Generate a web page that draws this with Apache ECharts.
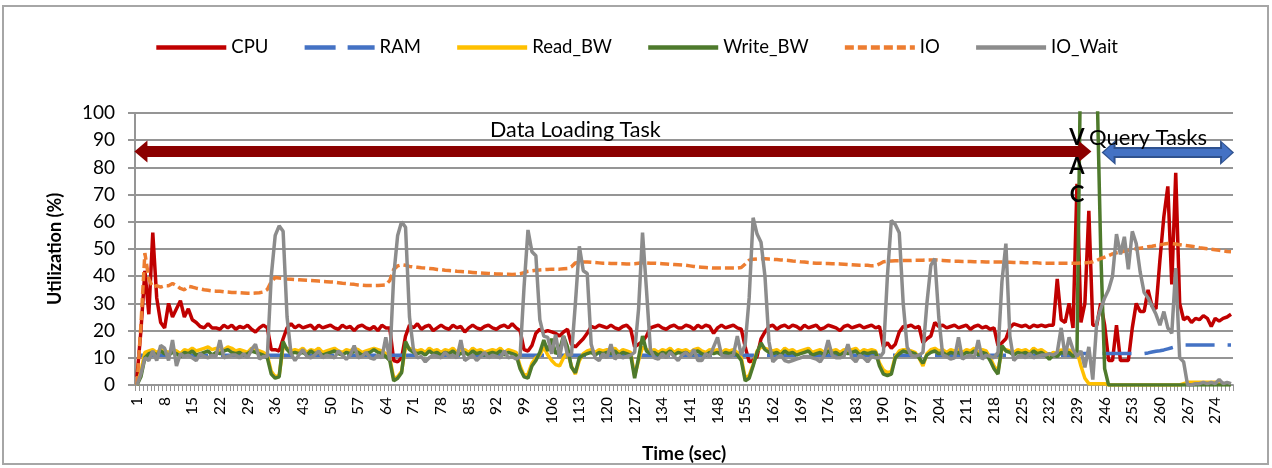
<!DOCTYPE html>
<html>
<head>
<meta charset="utf-8">
<title>Utilization</title>
<script src="https://cdn.jsdelivr.net/npm/echarts@6/dist/echarts.min.js"></script>
</head>
<body style="margin: 0; background: #fff;">
<div id="main" style="width: 1272px; height: 468px;"></div>
<script type="text/javascript">
    // time axis: one category per second
    var seconds = [];
    for (var s = 1; s <= 278; s++) { seconds.push(String(s)); }

    var seriesNames = ['CPU', 'RAM', 'Read_BW', 'Write_BW', 'IO', 'IO_Wait'];

    var cpu = [
        3, 20, 42, 26, 56, 32, 23, 21, 30, 25,
        28, 31, 25, 28, 24, 23, 21.5, 21, 22.5, 21,
        21, 20.5, 22, 21, 22, 20.5, 21.5, 21, 22, 20.5,
        19.5, 21, 22, 21, 13, 13, 12.5, 17, 21, 22.5,
        21, 22, 21, 21.5, 22, 20.5, 22, 21, 21.5, 22,
        21, 20.5, 22, 21, 21.5, 20, 21.5, 22, 21, 20.5,
        21.5, 20, 22, 21, 21, 9, 8.5, 10, 18, 22,
        21, 22.5, 20.5, 21.5, 22, 20, 21, 22, 21, 20.5,
        22, 21, 21.5, 19.5, 21, 22, 21, 20.5, 21.5, 22,
        21, 20.5, 21.5, 22, 21, 22.5, 21, 20, 13, 12.5,
        14.5, 19, 20.5, 19.5, 20, 19.5, 19, 18, 19.5, 20.5,
        15, 14, 15.5, 17, 19, 21.5, 21, 22, 21.5, 21,
        22, 21, 20.5, 21.5, 22, 20.5, 14, 15, 16, 18,
        21, 21.5, 22, 21, 20.5, 21.5, 22, 21, 21, 22,
        21.5, 20.5, 22, 21, 22, 21.5, 19, 21, 22, 21,
        21.5, 22, 21, 20.5, 14, 8.5, 9, 10.5, 17, 19.5,
        21.5, 22, 20.5, 21.5, 22, 21, 22, 21.5, 20.5, 22,
        21, 21.5, 22, 20.5, 21, 22, 21.5, 21, 20, 21.5,
        22, 21, 21.5, 22, 21, 21.5, 22, 21, 21.5, 14,
        15.5, 13.5, 15, 19.5, 21.5, 21.5, 22, 21, 21.5, 15.5,
        17, 18, 23, 21.5, 22, 21, 21.5, 22, 21, 21.5,
        22, 20.5, 21.5, 22, 21, 21.5, 20.5, 21, 14.5, 15.5,
        17, 21, 22.5, 22, 21.5, 22, 21, 22, 21.5, 22,
        21.5, 22, 22, 39, 24, 23, 30, 21, 74, 23,
        30, 64, 22, 22, 30, 22, 9, 9, 22, 9,
        9, 9, 21, 30, 27, 27, 35, 29, 28, 46,
        62, 73, 37, 78, 30, 24, 25, 23, 24.5, 24,
        25.5, 24.5, 21.5, 24.5, 23.5, 24.5, 25, 26
    ];

    var ram = [
        10.9, 10.9, 10.9, 10.9, 10.9, 10.9, 10.9, 10.9, 10.9, 10.9,
        10.9, 10.9, 10.9, 10.9, 10.9, 10.9, 10.9, 10.9, 10.9, 10.9,
        10.9, 10.9, 10.9, 10.9, 10.9, 10.9, 10.9, 10.9, 10.9, 10.9,
        10.9, 10.9, 10.9, 10.9, 10.9, 10.9, 10.9, 10.9, 10.9, 10.9,
        10.9, 10.9, 10.9, 10.9, 10.9, 10.9, 10.9, 10.9, 10.9, 10.9,
        10.9, 10.9, 10.9, 10.9, 10.9, 10.9, 10.9, 10.9, 10.9, 10.9,
        10.9, 10.9, 10.9, 10.9, 10.9, 10.9, 10.9, 10.9, 10.9, 10.9,
        10.9, 10.9, 10.9, 10.9, 10.9, 10.9, 10.9, 10.9, 10.9, 10.9,
        10.9, 10.9, 10.9, 10.9, 10.9, 10.9, 10.9, 10.9, 10.9, 10.9,
        10.9, 10.9, 10.9, 10.9, 10.9, 10.9, 10.9, 10.9, 10.9, 10.9,
        10.9, 10.9, 10.9, 10.9, 10.9, 10.9, 10.9, 10.9, 10.9, 10.9,
        10.9, 10.9, 10.9, 10.9, 10.9, 10.9, 10.9, 10.9, 10.9, 10.9,
        10.9, 10.9, 10.9, 10.9, 10.9, 10.9, 10.9, 10.9, 10.9, 10.9,
        10.9, 10.9, 10.9, 10.9, 10.9, 10.9, 10.9, 10.9, 10.9, 10.9,
        10.9, 10.9, 10.9, 10.9, 10.9, 10.9, 10.9, 10.9, 10.9, 10.9,
        10.9, 10.9, 10.9, 10.9, 10.9, 10.9, 10.9, 10.9, 10.9, 10.9,
        10.9, 10.9, 10.9, 10.9, 10.9, 10.9, 10.9, 10.9, 10.9, 10.9,
        10.9, 10.9, 10.9, 10.9, 10.9, 10.9, 10.9, 10.9, 10.9, 10.9,
        10.9, 10.9, 10.9, 10.9, 10.9, 10.9, 10.9, 10.9, 10.9, 10.9,
        10.9, 10.9, 10.9, 10.9, 10.9, 10.9, 10.9, 10.9, 10.9, 10.9,
        10.9, 10.9, 10.9, 10.9, 10.9, 10.9, 10.9, 10.9, 10.9, 10.9,
        10.9, 10.9, 10.9, 10.9, 10.9, 10.9, 10.9, 10.9, 10.9, 10.9,
        10.9, 10.9, 10.9, 10.9, 10.9, 10.9, 10.9, 10.9, 10.9, 10.9,
        10.9, 10.9, 10.9, 10.9, 10.9, 10.9, 10.9, 10.9, 11.6, 11.6,
        11.6, 11.6, 11.6, 11.6, 11.6, 11.6, 11.6, 11.6, 11.6, 11.6,
        11.6, 11.6, 11.6, 11.6, 11.6, 11.6, 11.8, 12.1, 12.4, 12.6,
        12.9, 13.3, 13.7, 14.1, 14.5, 14.7, 14.7, 14.7, 14.7, 14.7,
        14.7, 14.7, 14.7, 14.7, 14.7, 14.7, 14.7, 14.7
    ];

    var readBw = [
        0, 5, 12, 12.5, 13, 12, 13, 12.5, 12, 13,
        12.5, 11.5, 13, 12.5, 13.5, 12.5, 13, 13.5, 14, 13,
        13.5, 12.5, 13, 14, 13.5, 12.5, 13, 12.5, 12, 13.5,
        13, 12.5, 12, 11, 5, 3, 3.5, 14, 13.5, 12.5,
        13, 12.5, 13.5, 12, 13, 12.5, 13.5, 12, 12.5, 13,
        13.5, 12.5, 12, 13, 12.5, 13.5, 13, 12, 12.5, 13,
        13.5, 13, 12.5, 11.5, 10, 2.5, 3, 5, 14, 13.5,
        13, 12.5, 13, 12, 13.5, 12.5, 13, 12, 13, 12.5,
        13.5, 12, 12.5, 13, 12, 13.5, 12.5, 13, 12, 12.5,
        13, 12.5, 13.5, 12, 13, 12.5, 12, 7, 3.5, 4,
        8, 10, 11, 14, 11, 9, 7.5, 7, 10, 12,
        7, 4, 9, 11.5, 12.5, 13, 12, 13, 12.5, 13,
        12.5, 13.5, 12, 13, 12.5, 12, 3.5, 9, 14, 13,
        12.5, 13, 12, 13, 12.5, 13.5, 12, 13, 12.5, 13,
        12, 13, 13.5, 12.5, 12, 13, 12.5, 13, 12, 13,
        12.5, 13, 12, 10, 2.5, 3.5, 7.5, 12.5, 14, 13.5,
        13, 12.5, 13, 12, 13.5, 12.5, 13, 12, 12.5, 13,
        13.5, 12, 12.5, 13, 12, 13.5, 12.5, 13, 12, 13,
        12.5, 13, 13.5, 12, 13, 12.5, 13, 12.5, 8, 5.5,
        4.5, 5, 10.5, 12.5, 13, 13, 12.5, 12, 10, 7,
        11.5, 13, 13.5, 12.5, 13, 12, 13, 12.5, 13, 12,
        13, 12.5, 13.5, 12, 13, 12.5, 10, 7, 5, 13.5,
        13, 12.5, 12, 13, 12.5, 13, 12, 13.5, 12.5, 13,
        12, 11, 12, 11.5, 13, 12, 13, 11.5, 12.5, 7,
        2.5, 0.5, 0.5, 0.5, 0.5, 0.5, 0, 0, 0, 0,
        0, 0, 0, 0, 0, 0, 0, 0, 0, 0,
        0, 0, 0, 0, 0, 0.5, 1, 1, 1, 1,
        1, 1, 1, 1, 1, 0.5, 0.5, 0.5
    ];

    var writeBw = [
        0, 3, 10, 11.5, 12, 11, 12.5, 11.5, 11, 12,
        11.5, 10.5, 12, 11.5, 12.5, 11, 11.5, 12, 12.5, 11,
        12, 11.5, 12.5, 13, 12, 11.5, 12, 11, 11.5, 12.5,
        12, 11.5, 11, 10, 4, 2.5, 3, 16, 13, 11.5,
        12, 11.5, 12, 11, 12.5, 11.5, 12, 11, 11.5, 12,
        12.5, 11.5, 11, 12, 11.5, 12.5, 12, 11, 11.5, 12,
        13, 12, 11.5, 10.5, 9, 1.5, 2.5, 4.5, 16, 13,
        12, 11.5, 12, 11, 12.5, 11.5, 12, 11, 12, 11.5,
        12.5, 11, 11.5, 12, 11, 12.5, 11.5, 12, 11, 11.5,
        12, 11.5, 12.5, 11, 12, 11.5, 11, 6, 3, 2.5,
        7, 9, 12, 16.5, 12.5, 17, 11.5, 13, 18, 14,
        6.5, 4.5, 10, 11, 11.5, 12, 11, 12, 11.5, 12,
        11.5, 12.5, 11, 12, 11.5, 11, 2.5, 10, 18, 12.5,
        11.5, 12, 11, 12, 11.5, 12.5, 11, 12, 11.5, 12,
        11, 12, 12.5, 11.5, 11, 12, 11.5, 12, 11, 12,
        11.5, 12, 11, 9, 1.5, 2.5, 7, 12, 15.5, 13,
        12, 11.5, 12, 11, 12.5, 11.5, 12, 11, 11.5, 12,
        12.5, 11, 11.5, 12, 11, 12.5, 11.5, 12, 11, 12,
        11.5, 12, 12.5, 11, 12, 11.5, 12, 12, 7, 4,
        3.5, 4, 10, 11.5, 12.5, 12, 12, 11.5, 10, 8,
        11, 12, 12.5, 11.5, 12, 11, 12, 11.5, 12, 11,
        12, 11.5, 12.5, 11, 12, 11.5, 9, 6, 4, 14.5,
        12.5, 12, 11, 12, 11.5, 12, 11, 12.5, 11.5, 12,
        11, 9.5, 11, 10.5, 12, 11.5, 12, 10.5, 12, 130,
        400, 400, 400, 115, 50, 6, 0, 0, 0, 0,
        0, 0, 0, 0, 0, 0, 0, 0, 0, 0,
        0, 0, 0, 0, 0, 0, 0, 0, 0, 0,
        0, 0, 0, 0, 0, 0, 0, 0
    ];

    var io = [
        0, 22, 48.5, 39, 36, 36.5, 36, 36.5, 36.5, 37.3,
        36.5, 35.5, 35, 36.3, 36, 35.6, 35.3, 35, 34.8, 34.6,
        34.5, 34.5, 34.3, 34.2, 34, 34, 33.9, 33.8, 33.7, 33.7,
        33.8, 33.9, 34.2, 35.1, 38, 39.5, 39.3, 39.2, 39, 38.9,
        38.8, 38.7, 38.6, 38.5, 38.4, 38.3, 38.2, 38.1, 38, 37.9,
        37.8, 37.6, 37.4, 37.3, 37.1, 37, 36.8, 36.7, 36.6, 36.6,
        36.6, 36.6, 36.7, 36.8, 38.4, 42.5, 43.8, 44.2, 44, 43.6,
        43.4, 43.3, 43.1, 43, 42.8, 42.7, 42.5, 42.4, 42.2, 42.1,
        42, 41.8, 41.7, 41.6, 41.5, 41.4, 41.3, 41.2, 41.1, 41,
        40.9, 40.8, 40.8, 40.7, 40.7, 40.6, 40.7, 40.9, 41.3, 41.8,
        42, 42.2, 42.3, 42.4, 42.5, 42.6, 42.6, 42.6, 42.7, 42.8,
        43.5, 44.9, 45.1, 45.2, 45.2, 45.1, 45, 44.9, 44.8, 44.8,
        44.7, 44.7, 44.6, 44.6, 44.5, 44.5, 44.6, 44.8, 45, 44.9,
        44.8, 44.8, 44.7, 44.6, 44.5, 44.4, 44.3, 44.2, 44.1, 44,
        43.8, 43.6, 43.4, 43.3, 43.2, 43.1, 43, 43, 43, 43,
        43, 43, 43, 43.2, 44.5, 45.9, 46.2, 46.3, 46.4, 46.4,
        46.3, 46.2, 46.1, 46, 45.9, 45.8, 45.6, 45.5, 45.3, 45.2,
        45, 44.9, 44.8, 44.8, 44.7, 44.7, 44.6, 44.6, 44.5, 44.4,
        44.3, 44.2, 44.1, 44, 44, 44, 43.8, 43.9, 44.5, 45.3,
        45.5, 45.6, 45.7, 45.7, 45.8, 45.8, 45.8, 45.9, 45.9, 45.9,
        46, 46, 46, 45.9, 45.8, 45.7, 45.6, 45.5, 45.5, 45.4,
        45.4, 45.4, 45.3, 45.3, 45.3, 45.2, 45.2, 45.2, 45.2, 45.2,
        45.1, 45.1, 45, 45, 45, 44.9, 44.9, 44.9, 44.9, 44.8,
        44.8, 44.8, 44.8, 44.8, 44.8, 44.8, 44.8, 44.8, 44.8, 44.9,
        44.9, 45, 45.3, 45.8, 46.5, 47, 47.6, 48.2, 48.6, 48.9,
        49.2, 49.5, 49.8, 50.1, 50.3, 50.5, 50.8, 51, 51.3, 51.5,
        51.8, 52, 52, 51.8, 51.6, 51.4, 51.2, 51, 50.8, 50.5,
        50.3, 50.1, 49.9, 49.7, 49.5, 49.3, 49.1, 49
    ];

    var ioWait = [
        0, 4, 10, 9, 12.5, 9, 14.5, 13.5, 9, 16.5,
        7, 11.5, 10.5, 11, 10, 9, 11.5, 10.5, 10, 11,
        10.5, 16.5, 10, 10.5, 11, 11, 10, 11.5, 10, 13,
        15, 9.5, 10.5, 10.5, 40, 55, 58.5, 56.5, 25, 11.5,
        9, 11, 13, 10.5, 10, 11, 12.5, 10, 11, 10.5,
        10, 12.5, 11, 9.5, 11, 14.5, 10, 10.5, 12, 10,
        9.5, 11, 10, 17.5, 9, 40, 55, 60, 58, 25,
        13, 10, 10.5, 8.5, 10, 11, 10.5, 10, 12, 10.5,
        11, 10, 16.5, 9, 10, 11, 9, 10.5, 12, 10,
        11, 10.5, 10, 12.5, 10, 10.5, 9.5, 10.5, 36, 57,
        49, 47.5, 24, 18, 17.5, 11.5, 18.5, 10, 18, 11,
        11, 30, 51, 42, 41, 15, 10, 9, 11.5, 10,
        15, 9.5, 11, 10, 10.5, 11, 12, 28, 56, 35,
        13, 10, 9.5, 11.5, 10, 12, 10.5, 9, 11, 12,
        10.5, 13, 9, 9, 11.5, 10.5, 14, 17.5, 11, 10.5,
        10.5, 11, 18, 11, 15, 32, 61.5, 55.5, 52.5, 40,
        16, 8.5, 10, 11, 9, 8.5, 9, 9.5, 10, 10.5,
        10.5, 10, 9.5, 8.5, 11, 16.5, 11, 10, 10, 10.5,
        15, 10, 8.5, 11, 10, 8.5, 10.5, 10, 10, 12,
        40, 60.5, 59, 56, 30, 14, 11, 10.5, 11, 12,
        30, 44, 46.5, 25, 11, 10.5, 9.5, 10, 17.5, 9.5,
        10.5, 11, 10, 16.5, 9.5, 11, 10.5, 10, 12, 38,
        52, 18, 9, 10.5, 11, 10, 11.5, 10, 10.5, 11,
        11, 11.5, 11, 12, 21, 10.5, 17.5, 13, 10.5, 12.5,
        6.5, 14, 2, 23, 28, 32, 35, 40, 55.5, 48,
        54.5, 42.5, 56.5, 52, 41.5, 34, 32, 29, 26, 22,
        27, 21, 19, 43, 10, 8.5, 0, 0, 0.5, 0.5,
        1, 0.5, 1, 0.5, 2, 0.5, 1, 0.5
    ];

    var font = 'Lato, "Liberation Sans", sans-serif';
    var gridGray = '#959595';

    function lineSeries(name, data, color, dash) {
        return {
            name: name,
            type: 'line',
            data: data,
            symbol: 'none',
            clip: true,
            animation: false,
            lineStyle: { color: color, width: 3.5, type: dash || 'solid' },
            itemStyle: { color: color }
        };
    }

    var myChart = echarts.init(document.getElementById('main'));

    var ioWaitSeries = lineSeries('IO_Wait', ioWait, '#8C8C8C');
    // annotation arrows, placed with the chart's own axes
    ioWaitSeries.markLine = {
        silent: true,
        animation: false,
        label: { show: false },
        symbol: ['triangle', 'triangle'],
        data: [
            [{ coord: ['2', 85.8], symbolSize: [22, 13], lineStyle: { color: '#8B0000', width: 11, type: 'solid' } },
             { coord: ['241', 85.8], symbolSize: [22, 13] }],
            [{ coord: ['247', 85.5], symbolSize: [25, 14], lineStyle: { color: '#2F528F', width: 11, type: 'solid' } },
             { coord: ['277', 85.5], symbolSize: [25, 14] }],
            [{ coord: ['247', 85.5], symbolSize: [19, 10], lineStyle: { color: '#4472C4', width: 7, type: 'solid' } },
             { coord: ['277', 85.5], symbolSize: [19, 10] }]
        ]
    };
    ioWaitSeries.markPoint = {
        silent: true,
        animation: false,
        symbol: 'circle',
        symbolSize: 0,
        label: { show: true, position: 'inside', color: '#000', fontFamily: font, fontSize: 21.5 },
        data: [
            { coord: ['112', 93.9], label: { formatter: 'Data Loading Task' } },
            { coord: ['257', 91], label: { formatter: 'Query Tasks', fontSize: 22 } },
            { coord: ['239', 91], label: { formatter: 'V', fontWeight: 'bold', fontSize: 22 } },
            { coord: ['239', 80.3], label: { formatter: 'A', fontWeight: 'bold', fontSize: 22 } },
            { coord: ['239', 69.9], label: { formatter: 'C', fontWeight: 'bold', fontSize: 22 } }
        ]
    };

    var option = {
        animation: false,
        backgroundColor: '#fff',
        textStyle: { fontFamily: font },
        graphic: [{
            type: 'rect',
            silent: true,
            shape: { x: 3, y: 6, width: 1265, height: 458 },
            style: { fill: 'none', stroke: '#a6a6a6', lineWidth: 2 }
        }],
        legend: {
            data: [
                { name: 'CPU' },
                { name: 'RAM', lineStyle: { type: [31, 12] } },
                { name: 'Read_BW' },
                { name: 'Write_BW' },
                { name: 'IO' },
                { name: 'IO_Wait' }
            ],
            top: 33,
            left: 'center',
            itemWidth: 70,
            itemHeight: 12,
            itemGap: 34,
            itemStyle: { opacity: 0 },
            lineStyle: { width: 4.5 },
            textStyle: { fontSize: 18.5, color: '#000', fontFamily: font }
        },
        grid: { left: 135, right: 39, top: 113, bottom: 76 },
        xAxis: {
            type: 'category',
            data: seconds,
            boundaryGap: true,
            name: 'Time (sec)',
            nameLocation: 'middle',
            nameGap: 59,
            nameTextStyle: { fontSize: 19, fontWeight: 'bold', color: '#000', fontFamily: font },
            axisLine: { lineStyle: { color: gridGray, width: 2 } },
            axisTick: { show: true, interval: 0, length: 6, lineStyle: { color: gridGray, width: 1 } },
            axisLabel: { interval: 6, rotate: 90, fontSize: 15.5, color: '#000', margin: 12, fontFamily: font }
        },
        yAxis: {
            type: 'value',
            min: 0,
            max: 100,
            interval: 10,
            name: 'Utilization (%)',
            nameLocation: 'middle',
            nameGap: 71,
            nameTextStyle: { fontSize: 18, fontWeight: 'bold', color: '#000', fontFamily: font },
            axisLine: { show: true, lineStyle: { color: gridGray, width: 2 } },
            axisTick: { show: true, length: 7, lineStyle: { color: gridGray, width: 2 } },
            axisLabel: { fontSize: 19, color: '#000', margin: 20, fontFamily: font },
            splitLine: { show: true, lineStyle: { color: gridGray, width: 2 } }
        },
        series: [
            lineSeries('CPU', cpu, '#C00000'),
            lineSeries('RAM', ram, '#4472C4', [29, 13]),
            lineSeries('Read_BW', readBw, '#FFC000'),
            lineSeries('Write_BW', writeBw, '#4E7A2C'),
            lineSeries('IO', io, '#ED7D31', [9, 4]),
            ioWaitSeries
        ]
    };
    myChart.setOption(option);
</script>
</body>
</html>
